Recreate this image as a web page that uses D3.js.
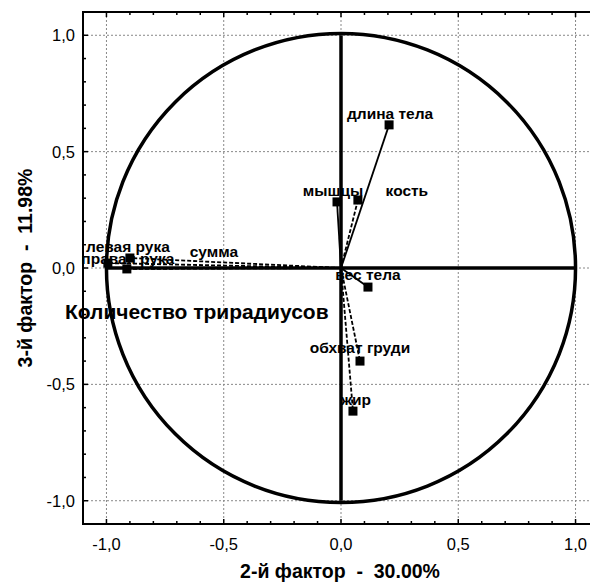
<!DOCTYPE html>
<html>
<head>
<meta charset="utf-8">
<script src="https://cdn.jsdelivr.net/npm/d3@7"></script>
<style>
    body { margin: 0; background: #fff; }
    svg { display: block; font-family: "Liberation Sans", Arial, sans-serif; }
</style>
</head>
<body>
<div id="chart"></div>
<script>
// Factor loadings (factor 2 vs factor 3)
const variables = ["длина тела", "кость", "мышцы", "вес тела", "обхват груди", "жир", "левая рука", "правая рука", "сумма"];
const factor2 = [0.205, 0.072, -0.017, 0.115, 0.081, 0.051, -0.900, -0.913, -0.994];
const factor3 = [0.615, 0.292, 0.284, -0.082, -0.400, -0.615, 0.043, -0.004, 0.021];
const tickValues = [-1.0, -0.5, 0.0, 0.5, 1.0];

document.addEventListener("DOMContentLoaded", function() {
    const width = 590, height = 582;
    const plot = { left: 83, top: 12, right: 599, bottom: 524 };

    // which vectors are dashed, label nudges
    const dashed = new Set(["кость", "обхват груди", "жир", "левая рука", "правая рука", "сумма"]);
    const labelShift = {
        "длина тела": [1, -6], "кость": [49, -4], "мышцы": [-4, -6], "вес тела": [0, -7],
        "обхват груди": [0, -8], "жир": [3, -6], "левая рука": [-2, -6], "правая рука": [1, -5],
        "сумма": [106, -6]
    };

    const fmt = d3.formatLocale({ decimal: ",", thousands: " ", grouping: [3], currency: ["", ""], minus: "-" }).format(".1f");

    const svg = d3.select("#chart").append("svg")
        .attr("width", width)
        .attr("height", height);

    const x = d3.scaleLinear().domain([-1.1, 1.1]).range([plot.left, plot.right]);
    const y = d3.scaleLinear().domain([-1.1, 1.1]).range([plot.bottom, plot.top]);

    // grid
    const grid = svg.append("g").attr("stroke", "#888").attr("stroke-width", 1).attr("stroke-dasharray", "2,2");
    grid.selectAll(".gx").data(tickValues).enter().append("line")
        .attr("x1", d => x(d)).attr("x2", d => x(d))
        .attr("y1", plot.top).attr("y2", plot.bottom);
    grid.selectAll(".gy").data(tickValues).enter().append("line")
        .attr("y1", d => y(d)).attr("y2", d => y(d))
        .attr("x1", plot.left).attr("x2", plot.right);

    // frame (right edge falls outside the picture)
    svg.append("path")
        .attr("d", `M${plot.right},${plot.top}H${plot.left}V${plot.bottom}H${plot.right}`)
        .attr("fill", "none").attr("stroke", "#000").attr("stroke-width", 2);

    // inward tick marks every 0.1
    const minor = d3.range(-11, 12).map(i => i / 10);
    const ticks = svg.append("g").attr("stroke", "#000").attr("stroke-width", 1.5);
    minor.forEach(v => {
        const big = Math.abs(Math.round(v * 10)) % 5 === 0;
        const len = big ? 5 : 3;
        ticks.append("line").attr("x1", x(v)).attr("x2", x(v)).attr("y1", plot.bottom).attr("y2", plot.bottom - len);
        ticks.append("line").attr("x1", x(v)).attr("x2", x(v)).attr("y1", plot.top).attr("y2", plot.top + len);
        ticks.append("line").attr("y1", y(v)).attr("y2", y(v)).attr("x1", plot.left).attr("x2", plot.left + len);
    });

    // tick labels
    svg.append("g").selectAll("text").data(tickValues).enter().append("text")
        .attr("x", d => x(d)).attr("y", 550)
        .attr("text-anchor", "middle").attr("font-size", 16.5)
        .text(d => fmt(d));
    svg.append("g").selectAll("text").data(tickValues).enter().append("text")
        .attr("x", 75).attr("y", d => y(d) + 6)
        .attr("text-anchor", "end").attr("font-size", 16.5)
        .text(d => fmt(d));

    // axis titles
    svg.append("text")
        .attr("x", 340).attr("y", 578)
        .attr("text-anchor", "middle").attr("font-size", 19.5).attr("font-weight", "bold")
        .attr("xml:space", "preserve")
        .text("2-й фактор  -  30.00%");
    svg.append("text")
        .attr("transform", `translate(32,${y(0)}) rotate(-90)`)
        .attr("text-anchor", "middle").attr("font-size", 19.5).attr("font-weight", "bold")
        .attr("xml:space", "preserve")
        .text("3-й фактор  -  11.98%");

    // unit circle and axes through the origin
    svg.append("circle")
        .attr("cx", x(0)).attr("cy", y(0)).attr("r", x(1) - x(0))
        .attr("fill", "none").attr("stroke", "#000").attr("stroke-width", 3.5);
    svg.append("line")
        .attr("x1", x(-1)).attr("x2", x(1)).attr("y1", y(0)).attr("y2", y(0))
        .attr("stroke", "#000").attr("stroke-width", 3.5);
    svg.append("line")
        .attr("x1", x(0)).attr("x2", x(0)).attr("y1", y(1)).attr("y2", y(-1))
        .attr("stroke", "#000").attr("stroke-width", 3.5);

    const data = variables.map((name, i) => ({ name, f2: factor2[i], f3: factor3[i] }));

    // vectors from origin
    svg.append("g").selectAll("line").data(data).enter().append("line")
        .attr("x1", x(0)).attr("y1", y(0))
        .attr("x2", d => x(d.f2)).attr("y2", d => y(d.f3))
        .attr("stroke", "#000")
        .attr("stroke-width", 1.8)
        .attr("stroke-dasharray", d => dashed.has(d.name) ? "4,2" : null);

    // points
    svg.append("g").selectAll("rect").data(data).enter().append("rect")
        .attr("x", d => x(d.f2) - 4.5).attr("y", d => y(d.f3) - 4.5)
        .attr("width", 9).attr("height", 9)
        .attr("fill", "#000");

    // labels
    svg.append("g").selectAll("text").data(data).enter().append("text")
        .attr("x", d => x(d.f2) + labelShift[d.name][0])
        .attr("y", d => y(d.f3) + labelShift[d.name][1])
        .attr("text-anchor", "middle")
        .attr("font-size", 15.5)
        .attr("font-weight", "bold")
        .text(d => d.name);

    svg.append("text")
        .attr("x", 65).attr("y", 319)
        .attr("font-size", 21).attr("font-weight", "bold")
        .text("Количество трирадиусов");
});
</script>
</body>
</html>
